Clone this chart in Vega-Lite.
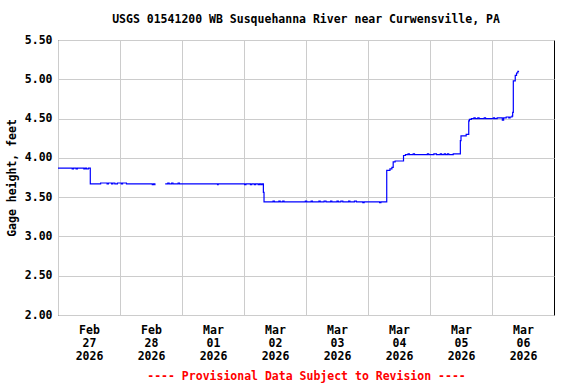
{
  "$schema": "https://vega.github.io/schema/vega-lite/v6.json",
  "width": 496,
  "height": 275,
  "autosize": "none",
  "padding": {"left": 58, "top": 40, "right": 22, "bottom": 69},
  "background": "white",
  "title": {
    "text": "USGS 01541200 WB Susquehanna River near Curwensville, PA",
    "font": "DejaVu Sans Mono",
    "fontSize": 11.5,
    "fontWeight": "bold",
    "color": "black",
    "anchor": "middle",
    "frame": "group",
    "offset": 9
  },
  "data": {
    "values": [
      {"time": "2026-02-27T00:00", "gage": 3.87, "seg": "a"},
      {"time": "2026-02-27T05:30", "gage": 3.86, "seg": "a"},
      {"time": "2026-02-27T06:00", "gage": 3.87, "seg": "a"},
      {"time": "2026-02-27T07:00", "gage": 3.86, "seg": "a"},
      {"time": "2026-02-27T07:30", "gage": 3.87, "seg": "a"},
      {"time": "2026-02-27T10:00", "gage": 3.86, "seg": "a"},
      {"time": "2026-02-27T10:30", "gage": 3.87, "seg": "a"},
      {"time": "2026-02-27T11:00", "gage": 3.86, "seg": "a"},
      {"time": "2026-02-27T11:45", "gage": 3.87, "seg": "a"},
      {"time": "2026-02-27T12:30", "gage": 3.67, "seg": "a"},
      {"time": "2026-02-27T16:30", "gage": 3.68, "seg": "a"},
      {"time": "2026-02-27T19:00", "gage": 3.67, "seg": "a"},
      {"time": "2026-02-27T19:30", "gage": 3.68, "seg": "a"},
      {"time": "2026-02-27T20:45", "gage": 3.67, "seg": "a"},
      {"time": "2026-02-27T21:15", "gage": 3.68, "seg": "a"},
      {"time": "2026-02-27T22:00", "gage": 3.67, "seg": "a"},
      {"time": "2026-02-27T23:00", "gage": 3.68, "seg": "a"},
      {"time": "2026-02-28T00:30", "gage": 3.67, "seg": "a"},
      {"time": "2026-02-28T01:00", "gage": 3.68, "seg": "a"},
      {"time": "2026-02-28T02:30", "gage": 3.67, "seg": "a"},
      {"time": "2026-02-28T12:30", "gage": 3.66, "seg": "a"},
      {"time": "2026-02-28T13:00", "gage": 3.67, "seg": "a"},
      {"time": "2026-02-28T13:30", "gage": 3.66, "seg": "a"},
      {"time": "2026-02-28T13:45", "gage": 3.66, "seg": "a"},
      {"time": "2026-02-28T17:30", "gage": 3.67, "seg": "b"},
      {"time": "2026-02-28T18:30", "gage": 3.68, "seg": "b"},
      {"time": "2026-02-28T19:00", "gage": 3.67, "seg": "b"},
      {"time": "2026-02-28T20:00", "gage": 3.68, "seg": "b"},
      {"time": "2026-02-28T20:30", "gage": 3.67, "seg": "b"},
      {"time": "2026-02-28T22:30", "gage": 3.68, "seg": "b"},
      {"time": "2026-02-28T23:00", "gage": 3.67, "seg": "b"},
      {"time": "2026-03-01T13:45", "gage": 3.66, "seg": "b"},
      {"time": "2026-03-01T14:00", "gage": 3.67, "seg": "b"},
      {"time": "2026-03-02T00:15", "gage": 3.66, "seg": "b"},
      {"time": "2026-03-02T00:45", "gage": 3.67, "seg": "b"},
      {"time": "2026-03-02T02:30", "gage": 3.66, "seg": "b"},
      {"time": "2026-03-02T03:00", "gage": 3.67, "seg": "b"},
      {"time": "2026-03-02T04:00", "gage": 3.66, "seg": "b"},
      {"time": "2026-03-02T04:30", "gage": 3.67, "seg": "b"},
      {"time": "2026-03-02T05:30", "gage": 3.66, "seg": "b"},
      {"time": "2026-03-02T06:00", "gage": 3.67, "seg": "b"},
      {"time": "2026-03-02T06:30", "gage": 3.66, "seg": "b"},
      {"time": "2026-03-02T07:00", "gage": 3.67, "seg": "b"},
      {"time": "2026-03-02T07:30", "gage": 3.56, "seg": "b"},
      {"time": "2026-03-02T07:45", "gage": 3.44, "seg": "b"},
      {"time": "2026-03-02T11:15", "gage": 3.45, "seg": "b"},
      {"time": "2026-03-02T11:45", "gage": 3.44, "seg": "b"},
      {"time": "2026-03-02T13:30", "gage": 3.45, "seg": "b"},
      {"time": "2026-03-02T14:00", "gage": 3.44, "seg": "b"},
      {"time": "2026-03-02T15:00", "gage": 3.45, "seg": "b"},
      {"time": "2026-03-02T15:30", "gage": 3.44, "seg": "b"},
      {"time": "2026-03-02T23:45", "gage": 3.45, "seg": "b"},
      {"time": "2026-03-03T00:15", "gage": 3.44, "seg": "b"},
      {"time": "2026-03-03T02:00", "gage": 3.45, "seg": "b"},
      {"time": "2026-03-03T02:30", "gage": 3.44, "seg": "b"},
      {"time": "2026-03-03T05:00", "gage": 3.45, "seg": "b"},
      {"time": "2026-03-03T05:30", "gage": 3.44, "seg": "b"},
      {"time": "2026-03-03T07:00", "gage": 3.45, "seg": "b"},
      {"time": "2026-03-03T07:45", "gage": 3.44, "seg": "b"},
      {"time": "2026-03-03T09:30", "gage": 3.45, "seg": "b"},
      {"time": "2026-03-03T10:00", "gage": 3.44, "seg": "b"},
      {"time": "2026-03-03T12:00", "gage": 3.45, "seg": "b"},
      {"time": "2026-03-03T12:30", "gage": 3.44, "seg": "b"},
      {"time": "2026-03-03T13:30", "gage": 3.45, "seg": "b"},
      {"time": "2026-03-03T14:15", "gage": 3.44, "seg": "b"},
      {"time": "2026-03-03T16:30", "gage": 3.45, "seg": "b"},
      {"time": "2026-03-03T17:00", "gage": 3.44, "seg": "b"},
      {"time": "2026-03-03T18:45", "gage": 3.45, "seg": "b"},
      {"time": "2026-03-03T19:30", "gage": 3.44, "seg": "b"},
      {"time": "2026-03-03T22:00", "gage": 3.43, "seg": "b"},
      {"time": "2026-03-03T22:30", "gage": 3.44, "seg": "b"},
      {"time": "2026-03-04T04:30", "gage": 3.43, "seg": "b"},
      {"time": "2026-03-04T05:00", "gage": 3.44, "seg": "b"},
      {"time": "2026-03-04T07:15", "gage": 3.84, "seg": "b"},
      {"time": "2026-03-04T08:30", "gage": 3.86, "seg": "b"},
      {"time": "2026-03-04T09:15", "gage": 3.88, "seg": "b"},
      {"time": "2026-03-04T09:45", "gage": 3.95, "seg": "b"},
      {"time": "2026-03-04T10:30", "gage": 3.96, "seg": "b"},
      {"time": "2026-03-04T13:45", "gage": 4.03, "seg": "b"},
      {"time": "2026-03-04T14:30", "gage": 4.04, "seg": "b"},
      {"time": "2026-03-04T15:30", "gage": 4.05, "seg": "b"},
      {"time": "2026-03-04T16:00", "gage": 4.04, "seg": "b"},
      {"time": "2026-03-04T17:30", "gage": 4.05, "seg": "b"},
      {"time": "2026-03-04T18:00", "gage": 4.04, "seg": "b"},
      {"time": "2026-03-04T23:00", "gage": 4.05, "seg": "b"},
      {"time": "2026-03-04T23:30", "gage": 4.04, "seg": "b"},
      {"time": "2026-03-05T01:30", "gage": 4.05, "seg": "b"},
      {"time": "2026-03-05T02:30", "gage": 4.04, "seg": "b"},
      {"time": "2026-03-05T04:00", "gage": 4.05, "seg": "b"},
      {"time": "2026-03-05T04:30", "gage": 4.04, "seg": "b"},
      {"time": "2026-03-05T05:30", "gage": 4.05, "seg": "b"},
      {"time": "2026-03-05T06:00", "gage": 4.04, "seg": "b"},
      {"time": "2026-03-05T06:45", "gage": 4.05, "seg": "b"},
      {"time": "2026-03-05T07:15", "gage": 4.04, "seg": "b"},
      {"time": "2026-03-05T09:00", "gage": 4.05, "seg": "b"},
      {"time": "2026-03-05T11:45", "gage": 4.22, "seg": "b"},
      {"time": "2026-03-05T12:00", "gage": 4.28, "seg": "b"},
      {"time": "2026-03-05T14:00", "gage": 4.3, "seg": "b"},
      {"time": "2026-03-05T15:00", "gage": 4.47, "seg": "b"},
      {"time": "2026-03-05T15:15", "gage": 4.49, "seg": "b"},
      {"time": "2026-03-05T16:00", "gage": 4.5, "seg": "b"},
      {"time": "2026-03-05T17:00", "gage": 4.51, "seg": "b"},
      {"time": "2026-03-05T17:30", "gage": 4.5, "seg": "b"},
      {"time": "2026-03-05T18:30", "gage": 4.51, "seg": "b"},
      {"time": "2026-03-05T19:00", "gage": 4.5, "seg": "b"},
      {"time": "2026-03-05T21:00", "gage": 4.51, "seg": "b"},
      {"time": "2026-03-05T21:30", "gage": 4.5, "seg": "b"},
      {"time": "2026-03-06T00:30", "gage": 4.51, "seg": "b"},
      {"time": "2026-03-06T01:00", "gage": 4.5, "seg": "b"},
      {"time": "2026-03-06T02:00", "gage": 4.51, "seg": "b"},
      {"time": "2026-03-06T04:00", "gage": 4.48, "seg": "b"},
      {"time": "2026-03-06T04:30", "gage": 4.51, "seg": "b"},
      {"time": "2026-03-06T05:30", "gage": 4.52, "seg": "b"},
      {"time": "2026-03-06T06:30", "gage": 4.51, "seg": "b"},
      {"time": "2026-03-06T07:00", "gage": 4.52, "seg": "b"},
      {"time": "2026-03-06T07:45", "gage": 4.53, "seg": "b"},
      {"time": "2026-03-06T08:00", "gage": 4.58, "seg": "b"},
      {"time": "2026-03-06T08:15", "gage": 4.98, "seg": "b"},
      {"time": "2026-03-06T09:00", "gage": 5.05, "seg": "b"},
      {"time": "2026-03-06T09:30", "gage": 5.08, "seg": "b"},
      {"time": "2026-03-06T10:00", "gage": 5.1, "seg": "b"},
      {"time": "2026-03-06T10:15", "gage": 5.11, "seg": "b"}
    ]
  },
  "mark": {"type": "line", "interpolate": "step-after", "color": "#0000FF", "strokeWidth": 1.2},
  "encoding": {
    "x": {
      "field": "time",
      "type": "temporal",
      "scale": {"domain": [{"year": 2026, "month": 2, "date": 27}, {"year": 2026, "month": 3, "date": 7}]},
      "axis": {
        "values": [
          {"year": 2026, "month": 2, "date": 27},
          {"year": 2026, "month": 2, "date": 28},
          {"year": 2026, "month": 3, "date": 1},
          {"year": 2026, "month": 3, "date": 2},
          {"year": 2026, "month": 3, "date": 3},
          {"year": 2026, "month": 3, "date": 4},
          {"year": 2026, "month": 3, "date": 5},
          {"year": 2026, "month": 3, "date": 6}
        ],
        "labelExpr": "[timeFormat(datum.value, '%b'), timeFormat(datum.value, '%d'), timeFormat(datum.value, '%Y')]",
        "labelOffset": 31,
        "labelAlign": "center",
        "labelBaseline": "top",
        "labelLineHeight": 13,
        "labelPadding": 9,
        "labelFlush": false,
        "labelBound": false,
        "labelOverlap": false,
        "title": "---- Provisional Data Subject to Revision ----",
        "titleColor": "#FF0000",
        "titlePadding": 9
      }
    },
    "y": {
      "field": "gage",
      "type": "quantitative",
      "scale": {"domain": [2, 5.5], "nice": false, "zero": false},
      "axis": {
        "values": [2, 2.5, 3, 3.5, 4, 4.5, 5, 5.5],
        "format": ".2f",
        "labelPadding": 6,
        "title": "Gage height, feet",
        "titlePadding": 7
      }
    },
    "detail": {"field": "seg", "type": "nominal"}
  },
  "config": {
    "view": {"stroke": "black", "strokeWidth": 1},
    "axis": {
      "grid": true,
      "gridColor": "#CCCCCC",
      "gridWidth": 1,
      "gridOpacity": 1,
      "ticks": false,
      "domain": false,
      "labelFont": "DejaVu Sans Mono",
      "labelFontSize": 11.5,
      "labelFontWeight": "bold",
      "labelColor": "black",
      "titleFont": "DejaVu Sans Mono",
      "titleFontSize": 11.5,
      "titleFontWeight": "bold",
      "titleColor": "black"
    }
  }
}
